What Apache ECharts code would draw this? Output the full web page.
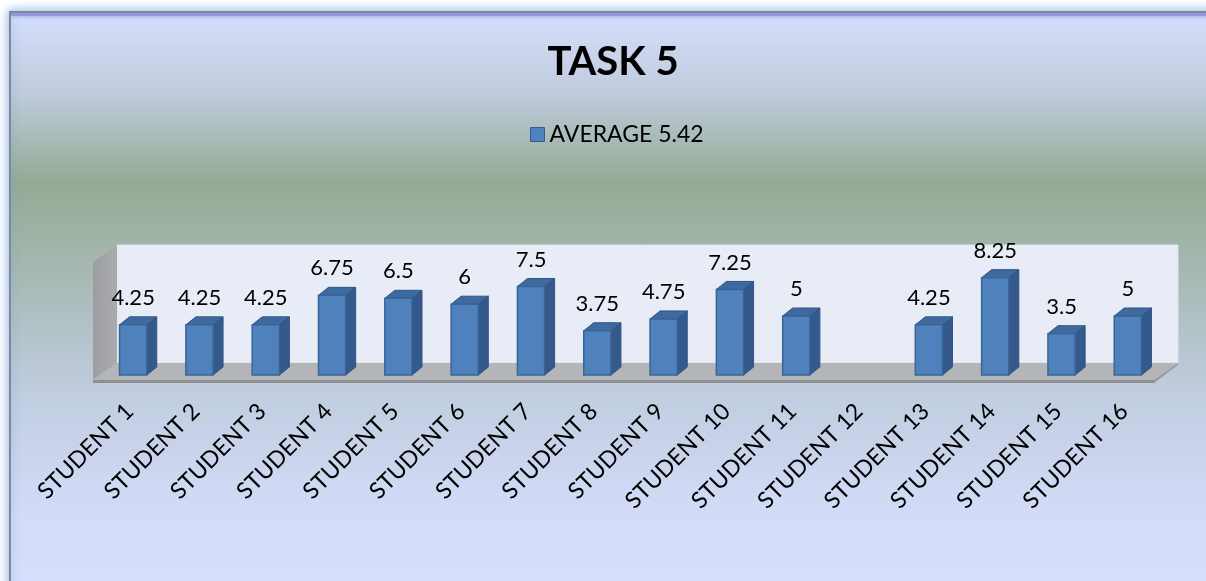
<!DOCTYPE html>
<html lang="en">
<head>
    <meta http-equiv="Content-Type" content="text/html; charset=UTF-8">
    <title>TASK 5</title>
    <script type="text/javascript" src="https://cdn.jsdelivr.net/npm/echarts@6/dist/echarts.min.js"></script>
    <style>
        html, body { margin: 0; padding: 0; background: #fff; }
        #main { width: 1206px; height: 581px; }
    </style>
</head>
<body>
    <div id="main"></div>

    <script type="text/javascript">
        // data
        var students = ['STUDENT 1', 'STUDENT 2', 'STUDENT 3', 'STUDENT 4', 'STUDENT 5', 'STUDENT 6',
            'STUDENT 7', 'STUDENT 8', 'STUDENT 9', 'STUDENT 10', 'STUDENT 11', 'STUDENT 12',
            'STUDENT 13', 'STUDENT 14', 'STUDENT 15', 'STUDENT 16'];
        var scores = [4.25, 4.25, 4.25, 6.75, 6.5, 6, 7.5, 3.75, 4.75, 7.25, 5, null, 4.25, 8.25, 3.5, 5];
        var seriesName = 'AVERAGE 5.42';

        var FONT = 'Lato, "Open Sans", sans-serif';
        // fake 3d depth
        var BAR_DX = 10, BAR_DY = -8;
        var BACK = [17, -12], FRONT = [-7, 5];

        var myChart = echarts.init(document.getElementById('main'));

        function renderBar(params, api) {
            var v = api.value(1);
            if (v == null || isNaN(v)) return null;
            var top = api.coord([api.value(0), v]);
            var base = api.coord([api.value(0), 0]);
            var w = api.size([1, 0])[0] * 0.41;
            var l = top[0] - w / 2, r = top[0] + w / 2;
            var edge = '#2f5585';
            return {
                type: 'group',
                children: [
                    {
                        type: 'polygon',
                        shape: { points: [[r, top[1]], [r + BAR_DX, top[1] + BAR_DY], [r + BAR_DX, base[1] + BAR_DY], [r, base[1]]] },
                        style: { fill: '#34598a', stroke: edge, lineWidth: 1 }
                    },
                    {
                        type: 'polygon',
                        shape: { points: [[l, top[1]], [l + BAR_DX, top[1] + BAR_DY], [r + BAR_DX, top[1] + BAR_DY], [r, top[1]]] },
                        style: { fill: '#3f6a9f', stroke: edge, lineWidth: 1 }
                    },
                    {
                        type: 'rect',
                        shape: { x: l, y: top[1], width: w, height: base[1] - top[1] },
                        style: { fill: '#4f81bd', stroke: '#3a6498', lineWidth: 1.5 }
                    },
                    {
                        type: 'text',
                        style: {
                            text: String(v), x: top[0], y: top[1] - 27,
                            align: 'center', verticalAlign: 'middle',
                            fontSize: 22, fontFamily: FONT, fill: '#000'
                        }
                    }
                ]
            };
        }

        // back wall, side wall and floor, from the grid box
        function renderWalls(params, api) {
            var cs = params.coordSys;
            var x0 = cs.x, x1 = cs.x + cs.width;
            var yt = cs.y, yb = cs.y + cs.height;
            function p(x, y, off) { return [x + off[0], y + off[1]]; }
            return {
                type: 'group',
                children: [
                    {
                        type: 'rect',
                        shape: { x: x0 + BACK[0], y: yt + BACK[1], width: cs.width, height: cs.height },
                        style: { fill: '#e8ecf6', stroke: '#dfe3ee', lineWidth: 1 }
                    },
                    {
                        type: 'polygon',
                        shape: { points: [p(x0, yt, FRONT), p(x0, yt, BACK), p(x0, yb, BACK), p(x0, yb, FRONT)] },
                        style: {
                            fill: new echarts.graphic.LinearGradient(0, 0, 1, 0, [
                                { offset: 0, color: '#9c9ea2' }, { offset: 1, color: '#a9abae' }
                            ])
                        }
                    },
                    {
                        type: 'polygon',
                        shape: { points: [p(x0, yb, BACK), p(x1, yb, BACK), p(x1, yb, FRONT), p(x0, yb, FRONT)] },
                        style: { fill: '#b3b5b8' }
                    },
                    {
                        type: 'polygon',
                        shape: { points: [p(x0, yb, FRONT), p(x1, yb, FRONT), p(x1, yb + 3, FRONT), p(x0, yb + 3, FRONT)] },
                        style: { fill: '#8e9093' }
                    },
                    {
                        type: 'polygon',
                        shape: { points: [p(x1, yb, FRONT), p(x1, yb, BACK), p(x1, yb + 2, BACK), p(x1, yb + 3, FRONT)] },
                        style: { fill: '#9a9c9f' }
                    }
                ]
            };
        }

        myChart.setOption({
            backgroundColor: '#fff',
            animation: false,
            graphic: [
                {
                    type: 'rect', z: 0,
                    shape: { x: 10, y: 12, width: 1210, height: 590 },
                    style: {
                        fill: new echarts.graphic.LinearGradient(0, 0, 0, 1, [
                            { offset: 0, color: '#d6e0fe' },
                            { offset: 0.14, color: '#bfcbdb' },
                            { offset: 0.29, color: '#94aa94' },
                            { offset: 0.45, color: '#a8b9b4' },
                            { offset: 0.65, color: '#c1cde0' },
                            { offset: 0.85, color: '#d2dcf8' },
                            { offset: 1, color: '#d6e0fe' }
                        ]),
                        stroke: '#888', lineWidth: 2,
                        shadowBlur: 10, shadowColor: 'rgba(110,165,240,0.9)'
                    }
                },
                {
                    type: 'rect', z: 0,
                    shape: { x: 11, y: 13, width: 1200, height: 3 },
                    style: { fill: '#9296dc' }
                },
                {
                    type: 'rect', z: 0,
                    shape: { x: 11, y: 16, width: 1200, height: 2 },
                    style: { fill: '#bcc3f3' }
                }
            ],
            title: {
                text: 'TASK 5',
                left: 608,
                textAlign: 'center',
                top: 37,
                textStyle: { fontSize: 40, fontWeight: 'bold', fontFamily: FONT, color: '#000' }
            },
            legend: {
                data: [{ name: seriesName, icon: 'rect' }],
                left: 525,
                top: 118,
                itemWidth: 14,
                itemHeight: 14,
                itemGap: 8,
                itemStyle: { borderColor: '#385d8a', borderWidth: 1 },
                textStyle: { fontSize: 23, fontFamily: FONT, color: '#000' }
            },
            grid: { left: 100, right: 45, top: 257, bottom: 206 },
            xAxis: {
                type: 'category',
                data: students,
                axisLine: { show: false },
                axisTick: { show: false },
                axisLabel: {
                    rotate: 45, margin: 29, interval: 0,
                    padding: [0, 5, 0, 0],
                    fontSize: 23, fontFamily: FONT, color: '#000'
                }
            },
            yAxis: {
                type: 'value', min: 0, max: 10,
                show: false
            },
            series: [
                {
                    name: 'walls',
                    type: 'custom',
                    z: 1,
                    silent: true,
                    renderItem: renderWalls,
                    data: [[0, 0]]
                },
                {
                    name: seriesName,
                    type: 'custom',
                    z: 2,
                    itemStyle: { color: '#4f81bd' },
                    renderItem: renderBar,
                    encode: { x: 0, y: 1 },
                    data: scores.map(function (v, i) { return [i, v]; })
                }
            ]
        });
    </script>
</body>
</html>
